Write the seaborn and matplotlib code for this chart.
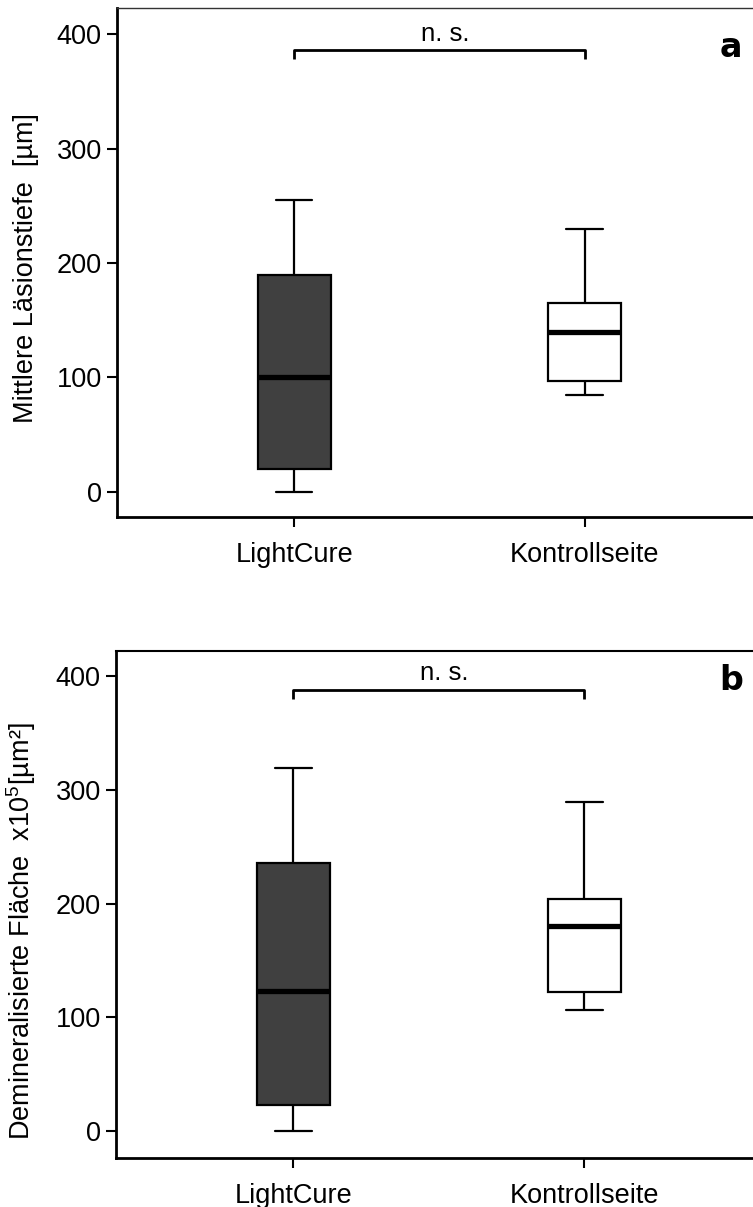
import numpy as np
import pandas as pd
import matplotlib
matplotlib.use("Agg")
import matplotlib.pyplot as plt
import seaborn as sns

# ---------------- data ----------------
groups = ["LightCure", "Kontrollseite"]
# five-number summaries: min, Q1, median, Q3, max
depth_lightcure = [0, 20, 100, 190, 255]
depth_kontroll = [85, 97, 140, 165, 230]
area_lightcure = [0, 23, 123, 236, 319]
area_kontroll = [106, 122, 180, 204, 289]
yticks = [0, 100, 200, 300, 400]
ylabel_a = "Mittlere Läsionstiefe  [µm]"
ylabel_b = "Demineralisierte Fläche  x10$^{5}$[µm²]"
sig_label = "n. s."
panel_letters = ["a", "b"]
bracket_levels = [386, 388]

box_colors = {"LightCure": "#404040", "Kontrollseite": "#ffffff"}

sns.set_style("ticks")
plt.rcParams["font.family"] = ["Liberation Sans", "DejaVu Sans"]
plt.rcParams["mathtext.fontset"] = "custom"
plt.rcParams["mathtext.rm"] = "Liberation Sans"
plt.rcParams["mathtext.it"] = "Liberation Sans:italic"
plt.rcParams["mathtext.bf"] = "Liberation Sans:bold"
plt.rcParams["mathtext.default"] = "rm"
for k in ["text.color", "axes.labelcolor", "xtick.color", "ytick.color", "axes.edgecolor"]:
    plt.rcParams[k] = "black"

fig = plt.figure(figsize=(7.53, 12.07), dpi=100)
W, H = 753, 1207
ax_a = fig.add_axes([117 / W, 1 - 517 / H, (W - 117) / W, (517 - 8) / H])
ax_b = fig.add_axes([116 / W, 1 - 1158 / H, (W - 116) / W, (1158 - 651) / H])

panels = [
    (ax_a, depth_lightcure, depth_kontroll, ylabel_a, (-22, 423), bracket_levels[0], panel_letters[0], 0.923, 1.0, "#333333", 0.489),
    (ax_b, area_lightcure, area_kontroll, ylabel_b, (-23.7, 422), bracket_levels[1], panel_letters[1], 0.941, 1.5, "black", 0.448),
]

for ax, lc, ko, ylab, ylim, blev, letter, ly, toplw, topcol, laby in panels:
    df = pd.DataFrame({
        "group": [groups[0]] * len(lc) + [groups[1]] * len(ko),
        "value": lc + ko,
    })
    sns.boxplot(
        data=df, x="group", y="value", hue="group", order=groups,
        hue_order=groups, palette=box_colors, whis=(0, 100), width=0.252,
        linecolor="black", linewidth=1.6, fliersize=0, legend=False,
        medianprops=dict(linewidth=3.8, color="black"), ax=ax,
    )
    ax.set_xlim(-0.61, 1.58)
    ax.set_ylim(*ylim)
    ax.set_yticks(yticks)
    ax.set_xlabel("")
    ax.set_ylabel(ylab, fontsize=19.5)
    ax.yaxis.set_label_coords(-0.122, laby)
    ax.tick_params(axis="y", direction="out", length=7, width=1.5, labelsize=19.5, pad=4)
    ax.tick_params(axis="x", direction="out", length=7, width=1.5, labelsize=19.5, pad=11)
    for s in ["left", "bottom"]:
        ax.spines[s].set_linewidth(2.0)
        ax.spines[s].set_color("black")
    ax.spines["right"].set_visible(False)
    ax.spines["top"].set_visible(True)
    ax.spines["top"].set_linewidth(toplw)
    ax.spines["top"].set_color(topcol)

    # significance bracket
    ax.plot([0, 0, 1, 1], [blev - 8, blev, blev, blev - 8], color="black", lw=2.0,
            solid_capstyle="butt", clip_on=False)
    ax.text(0.52, blev + 4, sig_label, ha="center", va="bottom", fontsize=18.5)
    ax.text(0.965, ly, letter, transform=ax.transAxes, ha="center", va="center",
            fontsize=24, fontweight="heavy", family="DejaVu Sans")

fig.savefig("out.png", dpi=100)
